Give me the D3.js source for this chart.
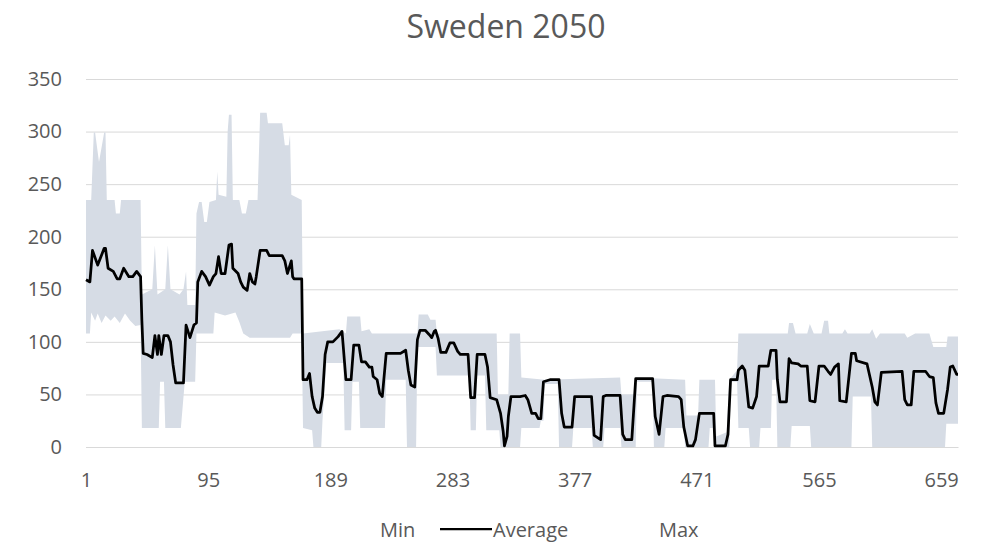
<!DOCTYPE html>
<html>
<head>
<meta charset="utf-8">
<script src="https://cdn.jsdelivr.net/npm/d3@7"></script>
<style>
  body { margin: 0; background: #fff; }
  svg text { font-family: 'Open Sans', sans-serif; fill: #595959; }
</style>
</head>
<body>
<div id="chart"></div>
<script>
// hourly values (only the break points are kept)
const avgHours = [1,4,6,10,15,16,18,22,25,27,30,34,37,40,43,44,45,48,52,54,56,57,59,61,64,66,68,70,76,78,81,84,86,87,90,93,96,99,101,103,105,108,111,113,114,118,120,122,125,127,129,131,132,135,140,142,152,154,156,159,160,161,167,168,171,173,175,177,179,181,183,185,187,191,195,198,199,201,205,207,211,213,216,219,221,222,225,227,229,232,243,247,249,251,254,256,258,262,265,267,269,270,272,274,278,281,284,287,289,295,297,300,302,308,310,312,317,320,322,323,325,326,328,335,339,341,344,347,349,351,353,358,365,367,369,375,377,390,392,397,399,401,412,414,416,421,424,437,439,442,445,448,457,459,461,464,468,470,473,484,485,493,495,497,502,503,506,508,511,514,517,519,526,528,532,533,535,540,542,544,549,551,556,558,562,565,569,572,574,577,580,581,586,590,593,594,602,606,608,610,613,629,631,633,636,638,647,650,653,655,657,661,664,666,668,671,672];
const avgValues = [159,157,187,173,189,189,170,167,160,160,170,162,162,167,162,120,89,88,85,106,88,106,88,106,106,100,78,61,61,116,104,116,118,157,167,162,154,162,165,181,165,165,192,193,170,165,157,152,149,165,157,155,162,187,187,182,182,177,165,177,162,160,160,64,64,70,48,37,33,33,48,88,100,100,105,110,95,64,64,97,97,81,81,76,76,67,64,51,48,89,89,92,73,59,57,102,111,111,107,104,110,111,103,90,90,99,99,91,88,88,47,47,88,88,76,47,45,32,15,1,10,29,48,48,49,45,32,32,27,27,62,64,64,32,19,19,48,48,11,7,48,49,49,12,7,7,65,65,29,12,48,49,48,45,19,1,1,7,32,32,1,1,12,64,64,73,77,73,38,37,48,77,77,92,92,64,43,43,84,80,79,77,77,44,43,77,77,72,69,76,79,44,43,89,89,82,79,57,43,40,71,72,45,40,40,72,72,67,66,42,32,32,55,76,77,69,69];

const maxHours = [1,5,7,8,11,15,16,17,23,24,27,28,43,44,52,54,56,62,64,66,73,76,78,79,85,86,88,90,92,94,96,101,102,103,109,110,111,113,114,119,121,124,126,133,135,140,141,152,154,157,158,159,167,168,196,201,202,212,213,219,221,256,257,264,266,270,271,317,318,326,327,335,336,354,412,413,423,424,462,463,472,473,485,486,494,496,502,503,541,542,545,547,556,558,561,567,569,572,573,583,585,587,604,606,609,612,631,633,639,650,653,663,664,672];
const maxValues = [235,235,299,299,271,299,299,235,235,222,222,235,235,145,150,192,145,150,192,150,145,150,167,135,135,222,233,233,214,214,233,235,262,240,238,300,316,316,235,235,222,222,235,235,318,318,308,308,287,287,297,240,235,108,112,108,124,124,110,112,108,108,126,126,121,121,108,108,50,50,108,108,66,64,66,50,50,66,64,30,30,64,64,10,14,64,73,108,108,118,118,108,108,117,108,108,120,120,108,108,112,108,108,112,103,108,108,104,108,108,95,95,105,105];

const minHours = [1,4,5,8,10,13,16,20,23,27,31,35,39,43,44,57,58,61,62,74,77,85,86,99,100,108,116,119,122,127,158,160,167,168,175,176,182,183,186,199,200,205,206,211,212,231,232,247,248,255,256,270,271,296,297,301,302,308,309,319,320,335,336,350,351,353,354,364,365,375,376,390,391,399,400,412,413,424,425,437,438,446,447,461,462,480,481,484,485,496,497,502,503,511,512,519,520,528,529,532,533,543,544,558,559,590,591,605,606,662,663,672];
const minValues = [108,108,128,120,127,118,125,120,124,118,127,120,115,116,18,18,62,62,18,18,62,62,108,108,128,125,128,119,108,104,104,108,108,18,16,0,0,26,80,80,16,16,62,62,18,18,64,64,0,0,95,95,68,68,16,16,68,68,16,16,0,0,18,18,25,25,60,60,0,0,18,18,0,0,18,18,0,0,62,62,0,0,18,18,0,0,18,18,0,0,62,62,18,18,0,0,18,18,64,64,0,0,20,20,0,0,48,48,0,0,22,22];

const xTickLabels = [1, 95, 189, 283, 377, 471, 565, 659];
const yTicks = [0, 50, 100, 150, 200, 250, 300, 350];
const hourCount = 672;
const legendLabels = ['Min', 'Average', 'Max'];
const chartTitle = 'Sweden 2050';

class Chart {

  constructor(containerId, totalWidth, totalHeight) {
    this.margins = {top: 79, bottom: 95, left: 86, right: 24};
    this.totalWidth = totalWidth;
    this.totalHeight = totalHeight;
    this.width = totalWidth - this.margins.left - this.margins.right;
    this.height = totalHeight - this.margins.top - this.margins.bottom;
    this.container = d3.select('#' + containerId);

    this.x = d3.scaleLinear().domain([1, hourCount]).range([0, this.width]);
    this.y = d3.scaleLinear().domain([0, 350]).range([this.height, 0]);
  }

  render() {
    this.svg = this.container.append('svg')
      .attr('width', this.totalWidth)
      .attr('height', this.totalHeight);

    this.plot = this.svg.append('g')
      .attr('transform', 'translate(' + [this.margins.left, this.margins.top] + ')');

    this.drawAxes();
    this.drawBand();
    this.drawAverage();
    this.drawTitle();
    this.drawLegend();
  }

  drawAxes() {
    // y axis doubles as the gridlines
    let yAxis = this.plot.append('g')
      .attr('class', 'axis axis--y')
      .call(d3.axisLeft(this.y).tickValues(yTicks).tickSize(-this.width).tickPadding(24));
    yAxis.select('.domain').remove();
    yAxis.selectAll('line').style('stroke', '#d9d9d9');
    yAxis.selectAll('text').style('font-size', '20px');

    let xAxis = this.plot.append('g')
      .attr('class', 'axis axis--x')
      .attr('transform', 'translate(0,' + this.height + ')')
      .call(d3.axisBottom(this.x).tickValues(xTickLabels).tickSize(0).tickPadding(26));
    xAxis.select('.domain').style('stroke', '#d9d9d9');
    xAxis.selectAll('text').style('font-size', '20px');
  }

  drawBand() {
    // max along the top, then min back along the bottom
    let top = maxHours.map((h, i) => [h, maxValues[i]]);
    let bottom = minHours.map((h, i) => [h, minValues[i]]).reverse();
    let line = d3.line().x(d => this.x(d[0])).y(d => this.y(d[1]));

    this.plot.append('path')
      .attr('class', 'band')
      .attr('d', line(top.concat(bottom)) + 'Z')
      .style('fill', '#d6dce5')
      .style('stroke', 'none');
  }

  drawAverage() {
    let points = avgHours.map((h, i) => [h, avgValues[i]]);
    let line = d3.line().x(d => this.x(d[0])).y(d => this.y(d[1]));

    this.plot.append('path')
      .attr('class', 'average')
      .attr('d', line(points))
      .style('fill', 'none')
      .style('stroke', '#000')
      .style('stroke-width', 2.75)
      .style('stroke-linejoin', 'round');
  }

  drawTitle() {
    this.svg.append('text')
      .attr('x', 506)
      .attr('y', 38)
      .attr('text-anchor', 'middle')
      .style('font-size', '32px')
      .text(chartTitle);
  }

  drawLegend() {
    let legend = this.svg.append('g')
      .attr('class', 'legend')
      .attr('transform', 'translate(0,537)');
    let textX = [380, 493, 659];

    legend.selectAll('text')
      .data(legendLabels)
      .enter()
      .append('text')
      .attr('x', (d, i) => textX[i])
      .style('font-size', '20px')
      .text(d => d);

    legend.append('line')
      .attr('x1', 440).attr('x2', 492)
      .attr('y1', -8).attr('y2', -8)
      .style('stroke', '#000')
      .style('stroke-width', 2.25);
  }
}

new Chart('chart', 982, 542).render();
</script>
</body>
</html>
